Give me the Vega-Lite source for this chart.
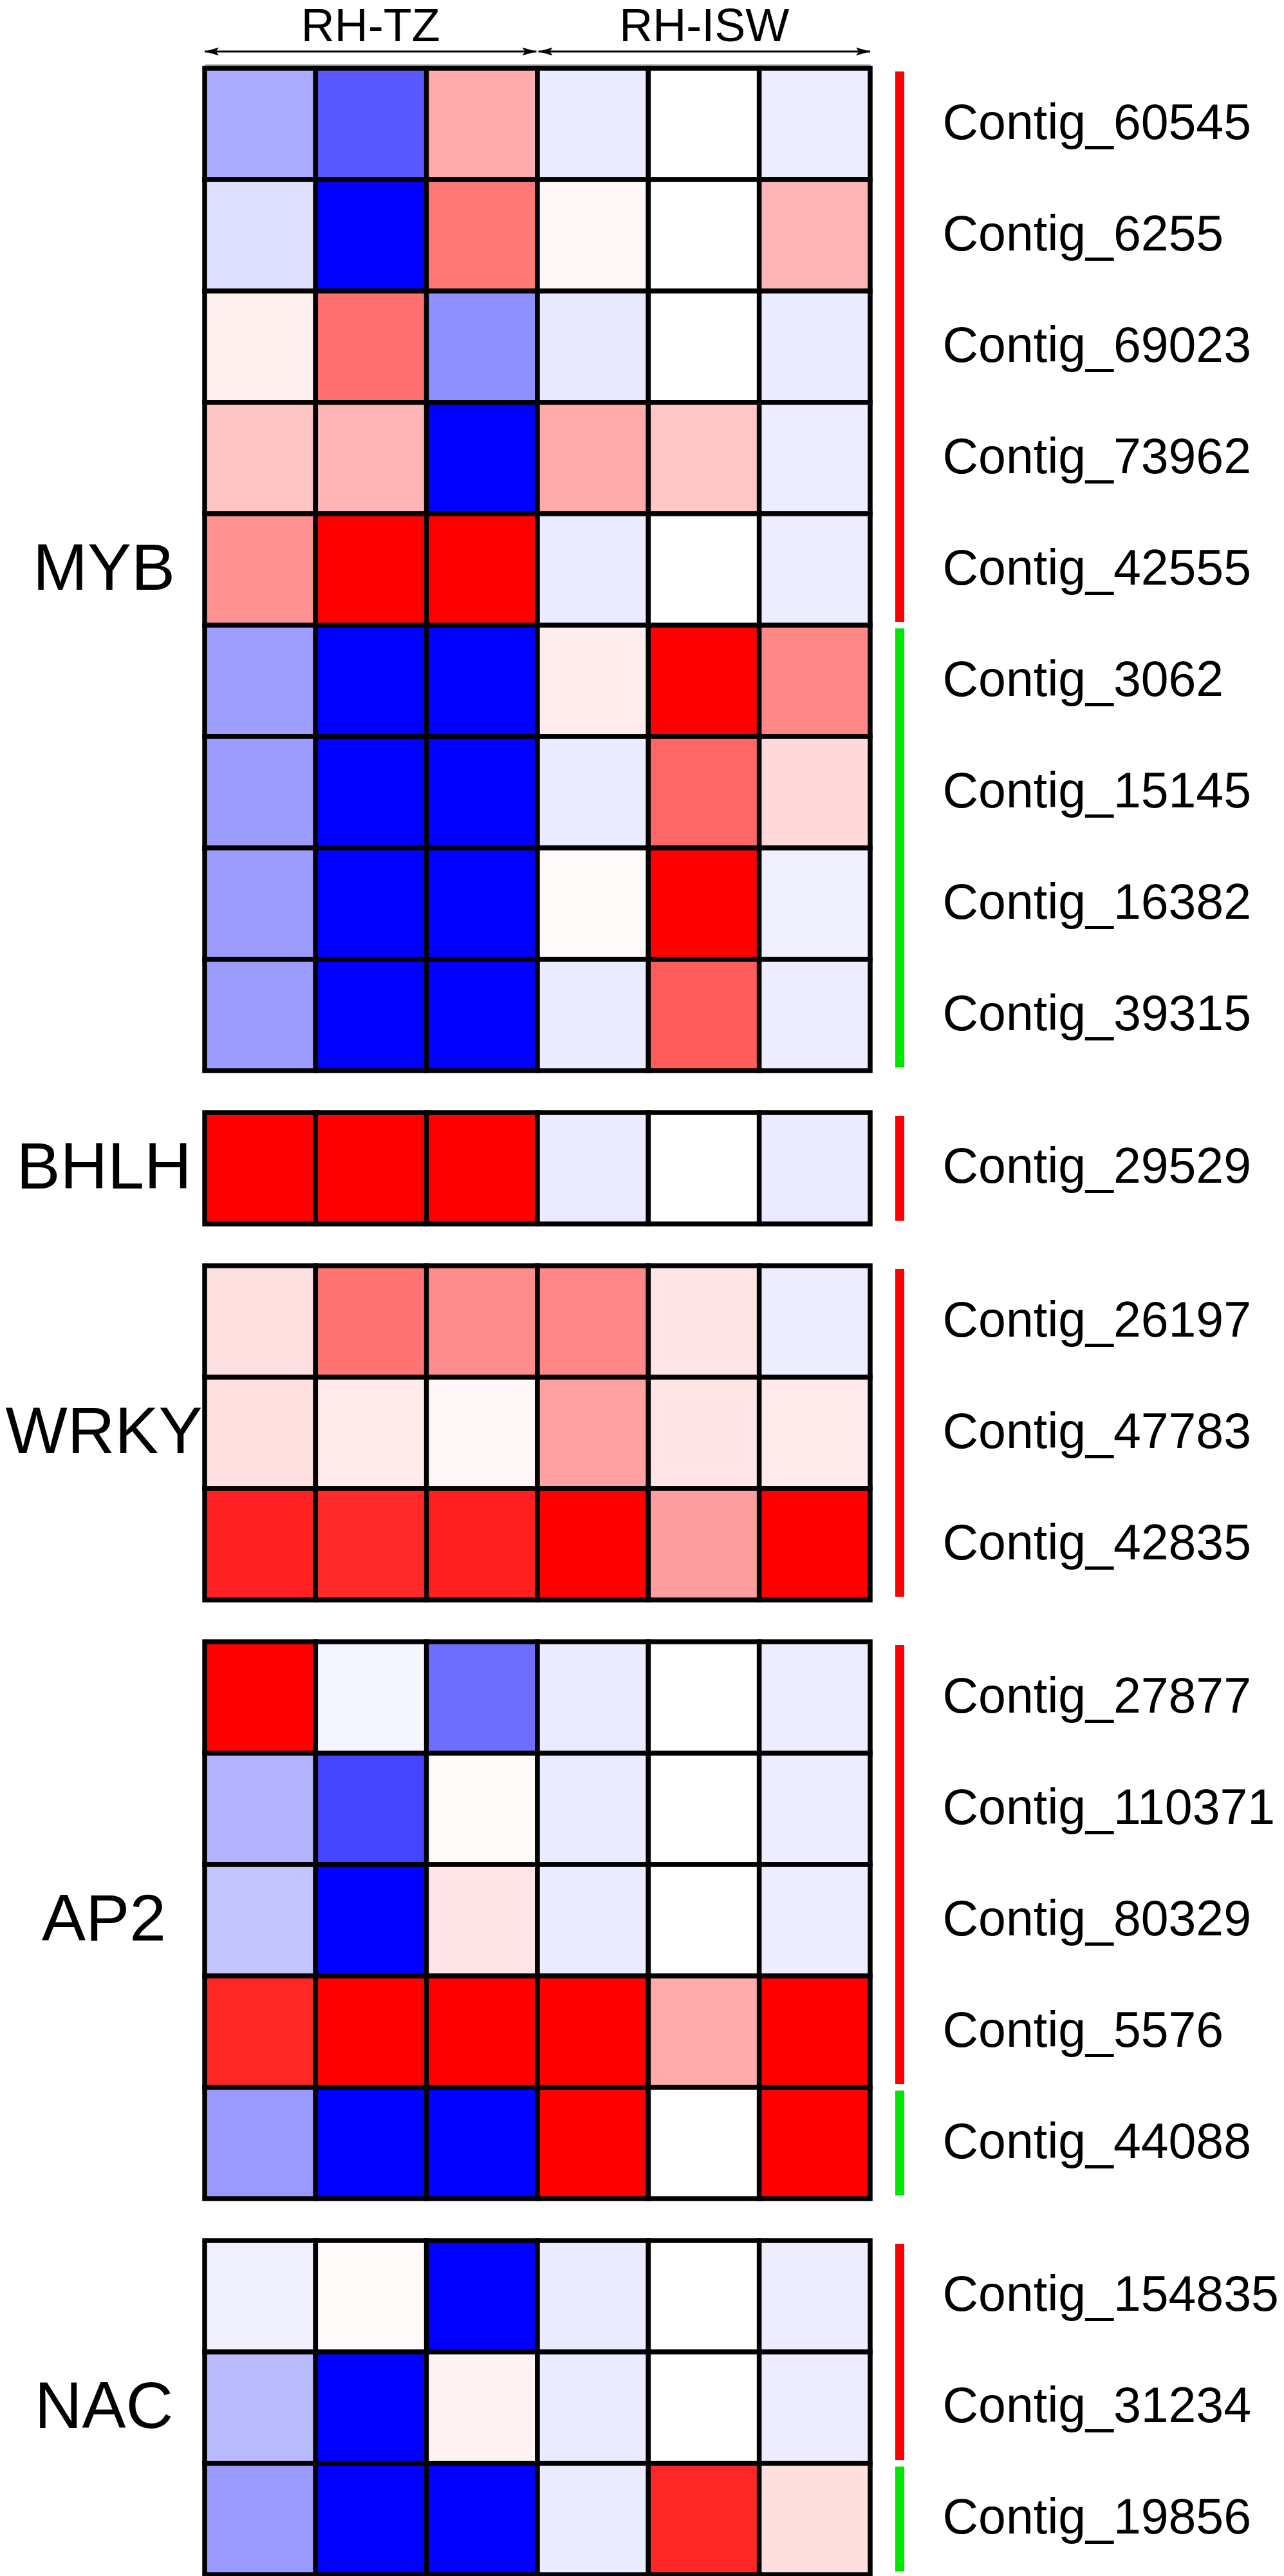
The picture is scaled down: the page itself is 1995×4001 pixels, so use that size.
{
  "$schema": "https://vega.github.io/schema/vega-lite/v6.json",
  "background": "white",
  "padding": {"left": 8, "top": 6, "right": 0, "bottom": 0},
  "autosize": {"type": "pad"},
  "config": {"font": "Liberation Sans", "view": {"stroke": null}},
  "datasets": {
    "treatments": [{"treatment": "RH-TZ"}, {"treatment": "RH-ISW"}],
    "segments": [
      {"group": "MYB", "start": "Contig_60545", "end": "Contig_42555", "dir": "up"},
      {"group": "MYB", "start": "Contig_3062", "end": "Contig_39315", "dir": "down"},
      {"group": "BHLH", "start": "Contig_29529", "end": "Contig_29529", "dir": "up"},
      {"group": "WRKY", "start": "Contig_26197", "end": "Contig_42835", "dir": "up"},
      {"group": "AP2", "start": "Contig_27877", "end": "Contig_5576", "dir": "up"},
      {"group": "AP2", "start": "Contig_44088", "end": "Contig_44088", "dir": "down"},
      {"group": "NAC", "start": "Contig_154835", "end": "Contig_31234", "dir": "up"},
      {"group": "NAC", "start": "Contig_19856", "end": "Contig_19856", "dir": "down"}
    ],
    "cells": [
      {"group": "MYB", "contig": "Contig_60545", "sample": "TZ1", "value": -0.33},
      {"group": "MYB", "contig": "Contig_60545", "sample": "TZ2", "value": -0.65},
      {"group": "MYB", "contig": "Contig_60545", "sample": "TZ3", "value": 0.33},
      {"group": "MYB", "contig": "Contig_60545", "sample": "ISW1", "value": -0.08},
      {"group": "MYB", "contig": "Contig_60545", "sample": "ISW2", "value": 0},
      {"group": "MYB", "contig": "Contig_60545", "sample": "ISW3", "value": -0.07},
      {"group": "MYB", "contig": "Contig_6255", "sample": "TZ1", "value": -0.12},
      {"group": "MYB", "contig": "Contig_6255", "sample": "TZ2", "value": -1},
      {"group": "MYB", "contig": "Contig_6255", "sample": "TZ3", "value": 0.53},
      {"group": "MYB", "contig": "Contig_6255", "sample": "ISW1", "value": 0.03},
      {"group": "MYB", "contig": "Contig_6255", "sample": "ISW2", "value": 0},
      {"group": "MYB", "contig": "Contig_6255", "sample": "ISW3", "value": 0.29},
      {"group": "MYB", "contig": "Contig_69023", "sample": "TZ1", "value": 0.06},
      {"group": "MYB", "contig": "Contig_69023", "sample": "TZ2", "value": 0.56},
      {"group": "MYB", "contig": "Contig_69023", "sample": "TZ3", "value": -0.44},
      {"group": "MYB", "contig": "Contig_69023", "sample": "ISW1", "value": -0.09},
      {"group": "MYB", "contig": "Contig_69023", "sample": "ISW2", "value": 0},
      {"group": "MYB", "contig": "Contig_69023", "sample": "ISW3", "value": -0.08},
      {"group": "MYB", "contig": "Contig_73962", "sample": "TZ1", "value": 0.23},
      {"group": "MYB", "contig": "Contig_73962", "sample": "TZ2", "value": 0.29},
      {"group": "MYB", "contig": "Contig_73962", "sample": "TZ3", "value": -1},
      {"group": "MYB", "contig": "Contig_73962", "sample": "ISW1", "value": 0.33},
      {"group": "MYB", "contig": "Contig_73962", "sample": "ISW2", "value": 0.22},
      {"group": "MYB", "contig": "Contig_73962", "sample": "ISW3", "value": -0.07},
      {"group": "MYB", "contig": "Contig_42555", "sample": "TZ1", "value": 0.43},
      {"group": "MYB", "contig": "Contig_42555", "sample": "TZ2", "value": 1},
      {"group": "MYB", "contig": "Contig_42555", "sample": "TZ3", "value": 1},
      {"group": "MYB", "contig": "Contig_42555", "sample": "ISW1", "value": -0.08},
      {"group": "MYB", "contig": "Contig_42555", "sample": "ISW2", "value": 0},
      {"group": "MYB", "contig": "Contig_42555", "sample": "ISW3", "value": -0.07},
      {"group": "MYB", "contig": "Contig_3062", "sample": "TZ1", "value": -0.38},
      {"group": "MYB", "contig": "Contig_3062", "sample": "TZ2", "value": -1},
      {"group": "MYB", "contig": "Contig_3062", "sample": "TZ3", "value": -1},
      {"group": "MYB", "contig": "Contig_3062", "sample": "ISW1", "value": 0.07},
      {"group": "MYB", "contig": "Contig_3062", "sample": "ISW2", "value": 1},
      {"group": "MYB", "contig": "Contig_3062", "sample": "ISW3", "value": 0.47},
      {"group": "MYB", "contig": "Contig_15145", "sample": "TZ1", "value": -0.39},
      {"group": "MYB", "contig": "Contig_15145", "sample": "TZ2", "value": -1},
      {"group": "MYB", "contig": "Contig_15145", "sample": "TZ3", "value": -1},
      {"group": "MYB", "contig": "Contig_15145", "sample": "ISW1", "value": -0.08},
      {"group": "MYB", "contig": "Contig_15145", "sample": "ISW2", "value": 0.6},
      {"group": "MYB", "contig": "Contig_15145", "sample": "ISW3", "value": 0.15},
      {"group": "MYB", "contig": "Contig_16382", "sample": "TZ1", "value": -0.39},
      {"group": "MYB", "contig": "Contig_16382", "sample": "TZ2", "value": -1},
      {"group": "MYB", "contig": "Contig_16382", "sample": "TZ3", "value": -1},
      {"group": "MYB", "contig": "Contig_16382", "sample": "ISW1", "value": 0.02},
      {"group": "MYB", "contig": "Contig_16382", "sample": "ISW2", "value": 1},
      {"group": "MYB", "contig": "Contig_16382", "sample": "ISW3", "value": -0.06},
      {"group": "MYB", "contig": "Contig_39315", "sample": "TZ1", "value": -0.39},
      {"group": "MYB", "contig": "Contig_39315", "sample": "TZ2", "value": -1},
      {"group": "MYB", "contig": "Contig_39315", "sample": "TZ3", "value": -1},
      {"group": "MYB", "contig": "Contig_39315", "sample": "ISW1", "value": -0.08},
      {"group": "MYB", "contig": "Contig_39315", "sample": "ISW2", "value": 0.64},
      {"group": "MYB", "contig": "Contig_39315", "sample": "ISW3", "value": -0.07},
      {"group": "BHLH", "contig": "Contig_29529", "sample": "TZ1", "value": 1},
      {"group": "BHLH", "contig": "Contig_29529", "sample": "TZ2", "value": 1},
      {"group": "BHLH", "contig": "Contig_29529", "sample": "TZ3", "value": 1},
      {"group": "BHLH", "contig": "Contig_29529", "sample": "ISW1", "value": -0.08},
      {"group": "BHLH", "contig": "Contig_29529", "sample": "ISW2", "value": 0},
      {"group": "BHLH", "contig": "Contig_29529", "sample": "ISW3", "value": -0.08},
      {"group": "WRKY", "contig": "Contig_26197", "sample": "TZ1", "value": 0.12},
      {"group": "WRKY", "contig": "Contig_26197", "sample": "TZ2", "value": 0.55},
      {"group": "WRKY", "contig": "Contig_26197", "sample": "TZ3", "value": 0.45},
      {"group": "WRKY", "contig": "Contig_26197", "sample": "ISW1", "value": 0.47},
      {"group": "WRKY", "contig": "Contig_26197", "sample": "ISW2", "value": 0.1},
      {"group": "WRKY", "contig": "Contig_26197", "sample": "ISW3", "value": -0.07},
      {"group": "WRKY", "contig": "Contig_47783", "sample": "TZ1", "value": 0.12},
      {"group": "WRKY", "contig": "Contig_47783", "sample": "TZ2", "value": 0.08},
      {"group": "WRKY", "contig": "Contig_47783", "sample": "TZ3", "value": 0.03},
      {"group": "WRKY", "contig": "Contig_47783", "sample": "ISW1", "value": 0.37},
      {"group": "WRKY", "contig": "Contig_47783", "sample": "ISW2", "value": 0.1},
      {"group": "WRKY", "contig": "Contig_47783", "sample": "ISW3", "value": 0.08},
      {"group": "WRKY", "contig": "Contig_42835", "sample": "TZ1", "value": 0.87},
      {"group": "WRKY", "contig": "Contig_42835", "sample": "TZ2", "value": 0.84},
      {"group": "WRKY", "contig": "Contig_42835", "sample": "TZ3", "value": 0.88},
      {"group": "WRKY", "contig": "Contig_42835", "sample": "ISW1", "value": 1},
      {"group": "WRKY", "contig": "Contig_42835", "sample": "ISW2", "value": 0.38},
      {"group": "WRKY", "contig": "Contig_42835", "sample": "ISW3", "value": 1},
      {"group": "AP2", "contig": "Contig_27877", "sample": "TZ1", "value": 1},
      {"group": "AP2", "contig": "Contig_27877", "sample": "TZ2", "value": -0.04},
      {"group": "AP2", "contig": "Contig_27877", "sample": "TZ3", "value": -0.57},
      {"group": "AP2", "contig": "Contig_27877", "sample": "ISW1", "value": -0.08},
      {"group": "AP2", "contig": "Contig_27877", "sample": "ISW2", "value": 0},
      {"group": "AP2", "contig": "Contig_27877", "sample": "ISW3", "value": -0.07},
      {"group": "AP2", "contig": "Contig_110371", "sample": "TZ1", "value": -0.3},
      {"group": "AP2", "contig": "Contig_110371", "sample": "TZ2", "value": -0.73},
      {"group": "AP2", "contig": "Contig_110371", "sample": "TZ3", "value": 0.02},
      {"group": "AP2", "contig": "Contig_110371", "sample": "ISW1", "value": -0.08},
      {"group": "AP2", "contig": "Contig_110371", "sample": "ISW2", "value": 0},
      {"group": "AP2", "contig": "Contig_110371", "sample": "ISW3", "value": -0.07},
      {"group": "AP2", "contig": "Contig_80329", "sample": "TZ1", "value": -0.23},
      {"group": "AP2", "contig": "Contig_80329", "sample": "TZ2", "value": -1},
      {"group": "AP2", "contig": "Contig_80329", "sample": "TZ3", "value": 0.1},
      {"group": "AP2", "contig": "Contig_80329", "sample": "ISW1", "value": -0.08},
      {"group": "AP2", "contig": "Contig_80329", "sample": "ISW2", "value": 0},
      {"group": "AP2", "contig": "Contig_80329", "sample": "ISW3", "value": -0.07},
      {"group": "AP2", "contig": "Contig_5576", "sample": "TZ1", "value": 0.85},
      {"group": "AP2", "contig": "Contig_5576", "sample": "TZ2", "value": 1},
      {"group": "AP2", "contig": "Contig_5576", "sample": "TZ3", "value": 1},
      {"group": "AP2", "contig": "Contig_5576", "sample": "ISW1", "value": 1},
      {"group": "AP2", "contig": "Contig_5576", "sample": "ISW2", "value": 0.33},
      {"group": "AP2", "contig": "Contig_5576", "sample": "ISW3", "value": 1},
      {"group": "AP2", "contig": "Contig_44088", "sample": "TZ1", "value": -0.4},
      {"group": "AP2", "contig": "Contig_44088", "sample": "TZ2", "value": -1},
      {"group": "AP2", "contig": "Contig_44088", "sample": "TZ3", "value": -1},
      {"group": "AP2", "contig": "Contig_44088", "sample": "ISW1", "value": 1},
      {"group": "AP2", "contig": "Contig_44088", "sample": "ISW2", "value": 0},
      {"group": "AP2", "contig": "Contig_44088", "sample": "ISW3", "value": 1},
      {"group": "NAC", "contig": "Contig_154835", "sample": "TZ1", "value": -0.06},
      {"group": "NAC", "contig": "Contig_154835", "sample": "TZ2", "value": 0.02},
      {"group": "NAC", "contig": "Contig_154835", "sample": "TZ3", "value": -1},
      {"group": "NAC", "contig": "Contig_154835", "sample": "ISW1", "value": -0.08},
      {"group": "NAC", "contig": "Contig_154835", "sample": "ISW2", "value": 0},
      {"group": "NAC", "contig": "Contig_154835", "sample": "ISW3", "value": -0.07},
      {"group": "NAC", "contig": "Contig_31234", "sample": "TZ1", "value": -0.27},
      {"group": "NAC", "contig": "Contig_31234", "sample": "TZ2", "value": -1},
      {"group": "NAC", "contig": "Contig_31234", "sample": "TZ3", "value": 0.05},
      {"group": "NAC", "contig": "Contig_31234", "sample": "ISW1", "value": -0.08},
      {"group": "NAC", "contig": "Contig_31234", "sample": "ISW2", "value": 0},
      {"group": "NAC", "contig": "Contig_31234", "sample": "ISW3", "value": -0.07},
      {"group": "NAC", "contig": "Contig_19856", "sample": "TZ1", "value": -0.4},
      {"group": "NAC", "contig": "Contig_19856", "sample": "TZ2", "value": -1},
      {"group": "NAC", "contig": "Contig_19856", "sample": "TZ3", "value": -1},
      {"group": "NAC", "contig": "Contig_19856", "sample": "ISW1", "value": -0.08},
      {"group": "NAC", "contig": "Contig_19856", "sample": "ISW2", "value": 0.85},
      {"group": "NAC", "contig": "Contig_19856", "sample": "ISW3", "value": 0.13}
    ]
  },
  "bounds": "flush",
  "align": "each",
  "columns": 2,
  "spacing": {"row": 5, "column": 34},
  "concat": [
    {
      "width": 1034,
      "height": 42,
      "data": {"name": "treatments"},
      "layer": [
        {
          "mark": {"type": "rule", "color": "black", "strokeWidth": 3},
          "encoding": {
            "x": {"field": "treatment", "type": "nominal", "sort": null, "bandPosition": 0, "scale": {"type": "band", "paddingInner": 0.006, "paddingOuter": 0}, "axis": {"orient": "bottom", "labels": false, "ticks": false, "domain": true, "domainColor": "#a6a6a6", "domainWidth": 3, "title": null, "grid": false}},
            "x2": {"field": "treatment", "bandPosition": 1}
          }
        },
        {
          "mark": {"type": "point", "shape": "M0,0L1,-0.28L0.8,0L1,0.28Z", "filled": true, "color": "black", "opacity": 1, "size": 1936},
          "encoding": {
            "x": {"field": "treatment", "type": "nominal", "sort": null, "bandPosition": 0, "scale": {"type": "band", "paddingInner": 0.006, "paddingOuter": 0}, "axis": {"orient": "bottom", "labels": false, "ticks": false, "domain": true, "domainColor": "#a6a6a6", "domainWidth": 3, "title": null, "grid": false}}
          }
        },
        {
          "mark": {"type": "point", "shape": "M0,0L-1,-0.28L-0.8,0L-1,0.28Z", "filled": true, "color": "black", "opacity": 1, "size": 1936},
          "encoding": {
            "x": {"field": "treatment", "type": "nominal", "sort": null, "bandPosition": 1, "scale": {"type": "band", "paddingInner": 0.006, "paddingOuter": 0}, "axis": {"orient": "bottom", "labels": false, "ticks": false, "domain": true, "domainColor": "#a6a6a6", "domainWidth": 3, "title": null, "grid": false}}
          }
        },
        {
          "mark": {"type": "text", "fontSize": 72, "font": "Liberation Sans", "color": "black", "baseline": "alphabetic", "dy": -16},
          "encoding": {
            "x": {"field": "treatment", "type": "nominal", "sort": null, "bandPosition": 0.5, "scale": {"type": "band", "paddingInner": 0.006, "paddingOuter": 0}, "axis": {"orient": "bottom", "labels": false, "ticks": false, "domain": true, "domainColor": "#a6a6a6", "domainWidth": 3, "title": null, "grid": false}},
            "text": {"field": "treatment"}
          }
        }
      ]
    },
    {
      "width": 24,
      "height": 42,
      "data": {"values": []},
      "mark": "text"
    },
    {
      "width": 1034, "height": {"step": 173},
      "data": {"name": "cells"},
      "transform": [{"filter": "datum.group === 'MYB'"}],
      "mark": {"type": "rect", "stroke": "black", "strokeWidth": 7.5},
      "encoding": {
        "x": {"field": "sample", "type": "nominal", "sort": null, "scale": {"paddingInner": 0, "paddingOuter": 0}, "axis": null},
        "y": {"field": "contig", "type": "nominal", "sort": null, "scale": {"paddingInner": 0, "paddingOuter": 0.0867, "align": 0}, "axis": {"orient": "left", "title": "MYB", "labels": false, "ticks": false, "domain": false, "grid": false, "titleAngle": 0, "titleX": -157, "titleY": 778.5, "titleAlign": "center", "titleBaseline": "middle", "titleFontSize": 102, "titleFontWeight": "normal", "titleFont": "Liberation Sans", "titleColor": "black", "titleLimit": 1000}},
        "color": {"field": "value", "type": "quantitative", "scale": {"domain": [-1, 0, 1], "range": ["#0000ff", "#ffffff", "#ff0000"], "interpolate": "rgb"}, "legend": null}
      }
    },
    {
      "width": 24, "height": {"step": 173},
      "data": {"name": "segments"},
      "transform": [{"filter": "datum.group === 'MYB'"}],
      "mark": {"type": "rect", "stroke": "white", "strokeWidth": 10},
      "encoding": {
        "y": {"field": "start", "type": "nominal", "bandPosition": 0, "scale": {"type": "band", "domain": ["Contig_60545", "Contig_6255", "Contig_69023", "Contig_73962", "Contig_42555", "Contig_3062", "Contig_15145", "Contig_16382", "Contig_39315"], "paddingInner": 0, "paddingOuter": 0.0867, "align": 0}, "axis": {"orient": "right", "title": null, "domain": false, "ticks": false, "tickSize": 0, "grid": false, "labelPadding": 54, "labelFontSize": 77, "labelColor": "black", "labelFont": "Liberation Sans", "labelLimit": 0}},
        "y2": {"field": "end", "bandPosition": 1},
        "fill": {"field": "dir", "type": "nominal", "scale": {"domain": ["up", "down"], "range": ["#ff0000", "#00e600"]}, "legend": null}
      }
    },
    {
      "width": 1034, "height": {"step": 173},
      "data": {"name": "cells"},
      "transform": [{"filter": "datum.group === 'BHLH'"}],
      "mark": {"type": "rect", "stroke": "black", "strokeWidth": 7.5},
      "encoding": {
        "x": {"field": "sample", "type": "nominal", "sort": null, "scale": {"paddingInner": 0, "paddingOuter": 0}, "axis": null},
        "y": {"field": "contig", "type": "nominal", "sort": null, "scale": {"paddingInner": 0, "paddingOuter": 0.17341, "align": 0.5}, "axis": {"orient": "left", "title": "BHLH", "labels": false, "ticks": false, "domain": false, "grid": false, "titleAngle": 0, "titleX": -157, "titleY": 116.5, "titleAlign": "center", "titleBaseline": "middle", "titleFontSize": 102, "titleFontWeight": "normal", "titleFont": "Liberation Sans", "titleColor": "black", "titleLimit": 1000}},
        "color": {"field": "value", "type": "quantitative", "scale": {"domain": [-1, 0, 1], "range": ["#0000ff", "#ffffff", "#ff0000"], "interpolate": "rgb"}, "legend": null}
      }
    },
    {
      "width": 24, "height": {"step": 173},
      "data": {"name": "segments"},
      "transform": [{"filter": "datum.group === 'BHLH'"}],
      "mark": {"type": "rect", "stroke": "white", "strokeWidth": 10},
      "encoding": {
        "y": {"field": "start", "type": "nominal", "bandPosition": 0, "scale": {"type": "band", "domain": ["Contig_29529"], "paddingInner": 0, "paddingOuter": 0.17341, "align": 0.5}, "axis": {"orient": "right", "title": null, "domain": false, "ticks": false, "tickSize": 0, "grid": false, "labelPadding": 54, "labelFontSize": 77, "labelColor": "black", "labelFont": "Liberation Sans", "labelLimit": 0}},
        "y2": {"field": "end", "bandPosition": 1},
        "fill": {"field": "dir", "type": "nominal", "scale": {"domain": ["up", "down"], "range": ["#ff0000", "#00e600"]}, "legend": null}
      }
    },
    {
      "width": 1034, "height": {"step": 173},
      "data": {"name": "cells"},
      "transform": [{"filter": "datum.group === 'WRKY'"}],
      "mark": {"type": "rect", "stroke": "black", "strokeWidth": 7.5},
      "encoding": {
        "x": {"field": "sample", "type": "nominal", "sort": null, "scale": {"paddingInner": 0, "paddingOuter": 0}, "axis": null},
        "y": {"field": "contig", "type": "nominal", "sort": null, "scale": {"paddingInner": 0, "paddingOuter": 0.17341, "align": 0.5}, "axis": {"orient": "left", "title": "WRKY", "labels": false, "ticks": false, "domain": false, "grid": false, "titleAngle": 0, "titleX": -157, "titleY": 289.5, "titleAlign": "center", "titleBaseline": "middle", "titleFontSize": 102, "titleFontWeight": "normal", "titleFont": "Liberation Sans", "titleColor": "black", "titleLimit": 1000}},
        "color": {"field": "value", "type": "quantitative", "scale": {"domain": [-1, 0, 1], "range": ["#0000ff", "#ffffff", "#ff0000"], "interpolate": "rgb"}, "legend": null}
      }
    },
    {
      "width": 24, "height": {"step": 173},
      "data": {"name": "segments"},
      "transform": [{"filter": "datum.group === 'WRKY'"}],
      "mark": {"type": "rect", "stroke": "white", "strokeWidth": 10},
      "encoding": {
        "y": {"field": "start", "type": "nominal", "bandPosition": 0, "scale": {"type": "band", "domain": ["Contig_26197", "Contig_47783", "Contig_42835"], "paddingInner": 0, "paddingOuter": 0.17341, "align": 0.5}, "axis": {"orient": "right", "title": null, "domain": false, "ticks": false, "tickSize": 0, "grid": false, "labelPadding": 54, "labelFontSize": 77, "labelColor": "black", "labelFont": "Liberation Sans", "labelLimit": 0}},
        "y2": {"field": "end", "bandPosition": 1},
        "fill": {"field": "dir", "type": "nominal", "scale": {"domain": ["up", "down"], "range": ["#ff0000", "#00e600"]}, "legend": null}
      }
    },
    {
      "width": 1034, "height": {"step": 173},
      "data": {"name": "cells"},
      "transform": [{"filter": "datum.group === 'AP2'"}],
      "mark": {"type": "rect", "stroke": "black", "strokeWidth": 7.5},
      "encoding": {
        "x": {"field": "sample", "type": "nominal", "sort": null, "scale": {"paddingInner": 0, "paddingOuter": 0}, "axis": null},
        "y": {"field": "contig", "type": "nominal", "sort": null, "scale": {"paddingInner": 0, "paddingOuter": 0.17341, "align": 0.5}, "axis": {"orient": "left", "title": "AP2", "labels": false, "ticks": false, "domain": false, "grid": false, "titleAngle": 0, "titleX": -157, "titleY": 462.5, "titleAlign": "center", "titleBaseline": "middle", "titleFontSize": 102, "titleFontWeight": "normal", "titleFont": "Liberation Sans", "titleColor": "black", "titleLimit": 1000}},
        "color": {"field": "value", "type": "quantitative", "scale": {"domain": [-1, 0, 1], "range": ["#0000ff", "#ffffff", "#ff0000"], "interpolate": "rgb"}, "legend": null}
      }
    },
    {
      "width": 24, "height": {"step": 173},
      "data": {"name": "segments"},
      "transform": [{"filter": "datum.group === 'AP2'"}],
      "mark": {"type": "rect", "stroke": "white", "strokeWidth": 10},
      "encoding": {
        "y": {"field": "start", "type": "nominal", "bandPosition": 0, "scale": {"type": "band", "domain": ["Contig_27877", "Contig_110371", "Contig_80329", "Contig_5576", "Contig_44088"], "paddingInner": 0, "paddingOuter": 0.17341, "align": 0.5}, "axis": {"orient": "right", "title": null, "domain": false, "ticks": false, "tickSize": 0, "grid": false, "labelPadding": 54, "labelFontSize": 77, "labelColor": "black", "labelFont": "Liberation Sans", "labelLimit": 0}},
        "y2": {"field": "end", "bandPosition": 1},
        "fill": {"field": "dir", "type": "nominal", "scale": {"domain": ["up", "down"], "range": ["#ff0000", "#00e600"]}, "legend": null}
      }
    },
    {
      "width": 1034, "height": {"step": 173},
      "data": {"name": "cells"},
      "transform": [{"filter": "datum.group === 'NAC'"}],
      "mark": {"type": "rect", "stroke": "black", "strokeWidth": 7.5},
      "encoding": {
        "x": {"field": "sample", "type": "nominal", "sort": null, "scale": {"paddingInner": 0, "paddingOuter": 0}, "axis": null},
        "y": {"field": "contig", "type": "nominal", "sort": null, "scale": {"paddingInner": 0, "paddingOuter": 0.0867, "align": 1}, "axis": {"orient": "left", "title": "NAC", "labels": false, "ticks": false, "domain": false, "grid": false, "titleAngle": 0, "titleX": -157, "titleY": 289.5, "titleAlign": "center", "titleBaseline": "middle", "titleFontSize": 102, "titleFontWeight": "normal", "titleFont": "Liberation Sans", "titleColor": "black", "titleLimit": 1000}},
        "color": {"field": "value", "type": "quantitative", "scale": {"domain": [-1, 0, 1], "range": ["#0000ff", "#ffffff", "#ff0000"], "interpolate": "rgb"}, "legend": null}
      }
    },
    {
      "width": 24, "height": {"step": 173},
      "data": {"name": "segments"},
      "transform": [{"filter": "datum.group === 'NAC'"}],
      "mark": {"type": "rect", "stroke": "white", "strokeWidth": 10},
      "encoding": {
        "y": {"field": "start", "type": "nominal", "bandPosition": 0, "scale": {"type": "band", "domain": ["Contig_154835", "Contig_31234", "Contig_19856"], "paddingInner": 0, "paddingOuter": 0.0867, "align": 1}, "axis": {"orient": "right", "title": null, "domain": false, "ticks": false, "tickSize": 0, "grid": false, "labelPadding": 54, "labelFontSize": 77, "labelColor": "black", "labelFont": "Liberation Sans", "labelLimit": 0}},
        "y2": {"field": "end", "bandPosition": 1},
        "fill": {"field": "dir", "type": "nominal", "scale": {"domain": ["up", "down"], "range": ["#ff0000", "#00e600"]}, "legend": null}
      }
    }
  ]
}
